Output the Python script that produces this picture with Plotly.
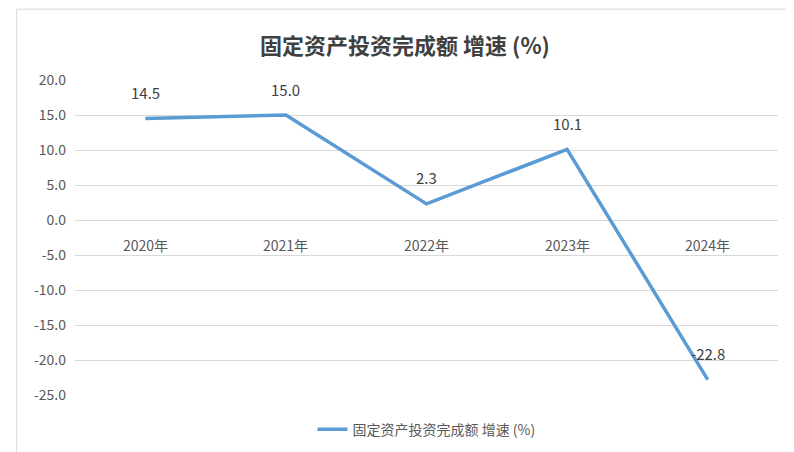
import plotly.graph_objects as go

categories = ["2020年", "2021年", "2022年", "2023年", "2024年"]
values = [14.5, 15.0, 2.3, 10.1, -22.8]
series_name = "固定资产投资完成额 增速 (%)"
yticks = [20, 15, 10, 5, 0, -5, -10, -15, -20, -25]

font = "Noto Sans CJK SC, Noto Sans, sans-serif"
fig = go.Figure(go.Scatter(
    x=categories, y=values, mode="lines", name=series_name,
    line=dict(color="#5B9BD5", width=3.5), cliponaxis=False))

for c, v in zip(categories, values):
    fig.add_annotation(x=c, y=v, xref="x", yref="y", text=f"{v:.1f}", showarrow=False,
                       yshift=26, font=dict(size=15, color="#404040"))
for c in categories:
    fig.add_annotation(x=c, y=0, xref="x", yref="y", text=c, showarrow=False,
                       yshift=-25, font=dict(size=14, color="#595959"))

fig.update_layout(
    width=794, height=452, paper_bgcolor="white", plot_bgcolor="white",
    margin=dict(l=67, r=24, t=72, b=65),
    font=dict(family=font),
    title=dict(text="<b>固定资产投资完成额 增速 (%)</b>", x=0.5, xanchor="center",
               y=0.915, yanchor="middle", font=dict(size=22, color="#404040")),
    showlegend=True,
    legend=dict(orientation="h", x=0.5, xanchor="center", y=-0.11, yanchor="middle",
                font=dict(size=14, color="#595959")),
    xaxis=dict(showticklabels=False, showgrid=False, zeroline=False, showline=False,
               range=[-0.5, 4.5]),
    yaxis=dict(range=[-25, 20], tickvals=yticks, ticktext=[f"{t:.1f}" for t in yticks],
               gridcolor="#D9D9D9", zeroline=False, showline=False,
               tickfont=dict(size=14, color="#595959"), ticklabelstandoff=8),
    shapes=[dict(type="rect", xref="paper", yref="paper", x0=-0.083, x1=1.031,
                 y0=-0.205, y1=1.225, line=dict(color="#D9D9D9", width=1))],
)
fig.write_html("out.html")
